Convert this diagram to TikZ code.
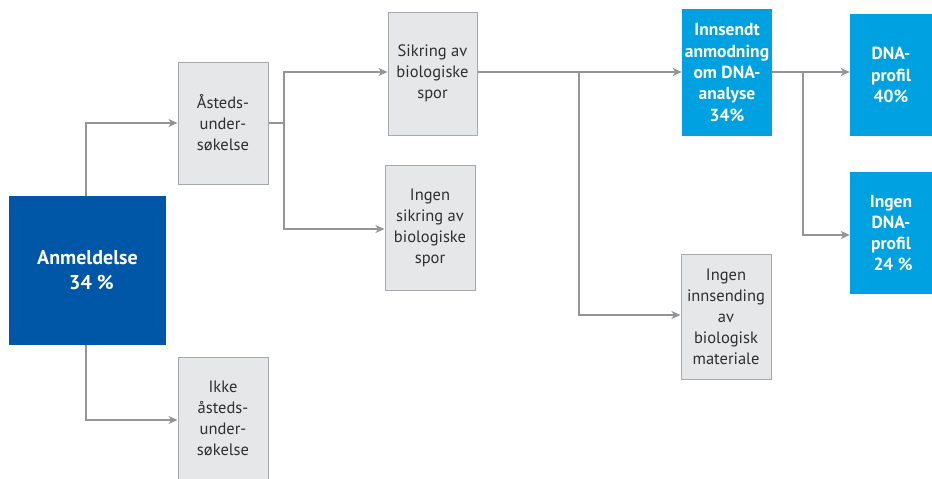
\documentclass[tikz,border=0pt]{standalone}
\usepackage{fontspec}
\setmainfont{PT Sans}
\usetikzlibrary{arrows.meta}
\definecolor{boxgrey}{HTML}{E6E7E8}
\definecolor{boxedge}{HTML}{A7A9AC}
\definecolor{darkblue}{HTML}{0057A8}
\definecolor{lightblue}{HTML}{00A1E0}
\definecolor{linegrey}{HTML}{939598}
\definecolor{txtgrey}{HTML}{2F2F2F}
\begin{document}
\begin{tikzpicture}[x=1pt,y=-1pt,
 greybox/.style={draw=boxedge, line width=1pt, fill=boxgrey, align=center, text=txtgrey, font=\fontsize{16.5}{21}\selectfont, inner sep=0pt},
 bluebox/.style={fill=lightblue, align=center, text=white, font=\fontsize{17.5}{21.3}\selectfont\bfseries, inner sep=0pt},
 conn/.style={draw=linegrey, line width=1.2pt, -{Stealth[length=9pt,width=8pt,inset=2.5pt]}},
 plainline/.style={draw=linegrey, line width=1.2pt}]
\useasboundingbox (0,0) rectangle (932,479);
\node[fill=darkblue, text=white, align=center, inner sep=0pt, font=\fontsize{20}{25}\selectfont\bfseries,
  minimum width=157pt, minimum height=149pt] (anm) at (87.5,270.5) {Anmeldelse\\\hspace{8pt}34 \%};
\node[greybox, minimum width=90pt, minimum height=122pt] (asted) at (223,123) {Åsteds-\\under-\\søkelse};
\node[greybox, minimum width=90pt, minimum height=122pt] (ikke) at (223,418.5) {Ikke\\åsteds-\\under-\\søkelse};
\node[greybox, minimum width=89pt, minimum height=123pt] (sikring) at (432.5,73.5) {Sikring av\\biologiske\\spor};
\node[greybox, minimum width=90pt, minimum height=125pt] (ingensik) at (430,227.5) {Ingen\\sikring av\\biologiske\\spor};
\node[bluebox, minimum width=90pt, minimum height=127pt] (innsendt) at (727,72.5) {Innsendt\\anmodning\\om DNA-\\analyse\\34\%};
\node[greybox, minimum width=90pt, minimum height=125pt] (ingeninns) at (726,316.5) {Ingen\\innsending\\av\\biologisk\\materiale};
\node[bluebox, minimum width=82pt, minimum height=122pt] (dna) at (891,75) {DNA-\\profil\\40\%};
\node[bluebox, minimum width=82pt, minimum height=122pt] (ingendna) at (891,233) {Ingen\\DNA-\\profil\\\hspace{4pt}24 \%};
\coordinate (j1) at (284,123);
\coordinate (j2) at (579,72);
\coordinate (j3) at (803,72);
\draw[conn] (anm.north -| 86,0) |- (asted.west |- 0,123);
\draw[conn] (anm.south -| 86,0) |- (ikke.west |- 0,420);
\draw[plainline] (asted.east |- j1) -- (j1);
\draw[conn] (j1) |- (sikring.west |- j2);
\draw[conn] (j1) |- (ingensik.west |- 0,229);
\draw[conn] (sikring.east |- j2) -- (innsendt.west |- j2);
\draw[conn] (j2) |- (ingeninns.west |- 0,315);
\draw[conn] (innsendt.east |- j3) -- (dna.west |- j3);
\draw[conn] (j3) |- (ingendna.west |- 0,235);
\end{tikzpicture}
\end{document}
